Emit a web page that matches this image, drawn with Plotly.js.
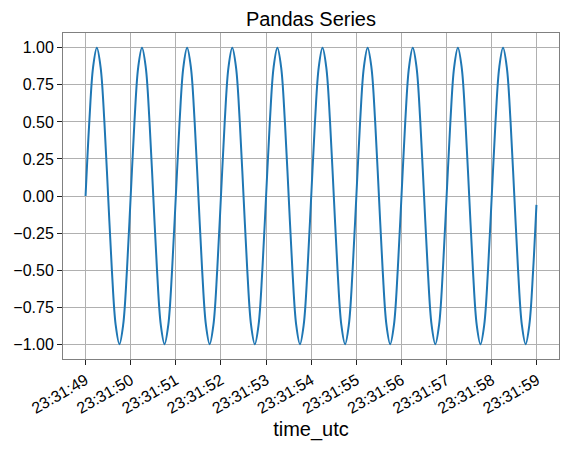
<!DOCTYPE html>
<html>
<head>
<meta charset="utf-8">
<script src="https://cdn.plot.ly/plotly-3.0.1.min.js"></script>
<style>html,body{margin:0;padding:0;background:#fff;}#chart{width:569px;height:451px;}</style>
</head>
<body>
<div id="chart"></div>
<script>
// Chart data
const seriesName = "Pandas Series";
const startTime = "2024-01-01 23:31:49";
const sampleOffsetsSec = [
  0.000,0.083,0.167,0.250,0.333,0.417,0.500,0.583,0.667,0.750,0.833,0.917,
  1.000,1.083,1.167,1.250,1.333,1.417,1.500,1.583,1.667,1.750,1.833,1.917,
  2.000,2.083,2.167,2.250,2.333,2.417,2.500,2.583,2.667,2.750,2.833,2.917,
  3.000,3.083,3.167,3.250,3.333,3.417,3.500,3.583,3.667,3.750,3.833,3.917,
  4.000,4.083,4.167,4.250,4.333,4.417,4.500,4.583,4.667,4.750,4.833,4.917,
  5.000,5.083,5.167,5.250,5.333,5.417,5.500,5.583,5.667,5.750,5.833,5.917,
  6.000,6.083,6.167,6.250,6.333,6.417,6.500,6.583,6.667,6.750,6.833,6.917,
  7.000,7.083,7.167,7.250,7.333,7.417,7.500,7.583,7.667,7.750,7.833,7.917,
  8.000,8.083,8.167,8.250,8.333,8.417,8.500,8.583,8.667,8.750,8.833,8.917,
  9.000,9.083,9.167,9.250,9.333,9.417,9.500,9.583,9.667,9.750,9.833,9.917,
  9.990
];
const seriesValues = [
  0,0.5,0.87,1,0.87,0.5,0,-0.5,-0.87,-1,-0.87,-0.5,
  0,0.5,0.87,1,0.87,0.5,0,-0.5,-0.87,-1,-0.87,-0.5,
  0,0.5,0.87,1,0.87,0.5,0,-0.5,-0.87,-1,-0.87,-0.5,
  0,0.5,0.87,1,0.87,0.5,0,-0.5,-0.87,-1,-0.87,-0.5,
  0,0.5,0.87,1,0.87,0.5,0,-0.5,-0.87,-1,-0.87,-0.5,
  0,0.5,0.87,1,0.87,0.5,0,-0.5,-0.87,-1,-0.87,-0.5,
  0,0.5,0.87,1,0.87,0.5,0,-0.5,-0.87,-1,-0.87,-0.5,
  0,0.5,0.87,1,0.87,0.5,0,-0.5,-0.87,-1,-0.87,-0.5,
  0,0.5,0.87,1,0.87,0.5,0,-0.5,-0.87,-1,-0.87,-0.5,
  0,0.5,0.87,1,0.87,0.5,0,-0.5,-0.87,-1,-0.87,-0.5,
  -0.06
];
const xAxisTitle = "time_utc";
const xRange = ["2024-01-01 23:31:48.5", "2024-01-01 23:31:59.49"];
const yRange = [-1.1, 1.1];

function pad(n, w){ let s = String(n); while (s.length < w) s = "0" + s; return s; }
const base = new Date(startTime.replace(" ", "T") + "Z").getTime();
const times = sampleOffsetsSec.map(o => {
  const d = new Date(base + Math.round(o * 1000));
  return d.getUTCFullYear() + "-" + pad(d.getUTCMonth()+1,2) + "-" + pad(d.getUTCDate(),2) + " " +
    pad(d.getUTCHours(),2) + ":" + pad(d.getUTCMinutes(),2) + ":" + pad(d.getUTCSeconds(),2) + "." + pad(d.getUTCMilliseconds(),3);
});

const font = "Liberation Sans, Arial, Helvetica, sans-serif";
const trace = {
  x: times, y: seriesValues, type: "scatter", mode: "lines",
  line: {color: "#1f77b4", width: 2, shape: "spline", smoothing: 1},
  hoverinfo: "skip"
};
const layout = {
  width: 569, height: 451,
  margin: {l: 63, r: 10, t: 33, b: 92},
  paper_bgcolor: "#fff", plot_bgcolor: "#fff",
  showlegend: false,
  font: {family: font, size: 16, color: "#000"},
  title: {text: seriesName, font: {family: font, size: 20, color: "#000"}, x: 0.5465, xanchor: "center", y: 0.958, yanchor: "middle", yref: "container"},
  xaxis: {
    type: "date", range: xRange,
    tickmode: "linear", tick0: "2024-01-01 23:31:49", dtick: 1000,
    tickformat: "%H:%M:%S", tickangle: -30,
    ticks: "outside", ticklen: 5, tickwidth: 1, tickcolor: "#222",
    showgrid: true, gridcolor: "#b0b0b0", gridwidth: 1,
    showline: true, linecolor: "#808080", linewidth: 1, mirror: true,
    zeroline: false,
    tickfont: {family: font, size: 16, color: "#000"},
    title: {text: xAxisTitle, font: {family: font, size: 20, color: "#000"}, standoff: 6}
  },
  yaxis: {
    range: yRange, tickmode: "linear", tick0: -1, dtick: 0.25, tickformat: ".2f",
    ticks: "outside", ticklen: 5, tickwidth: 1, tickcolor: "#222",
    showgrid: true, gridcolor: "#b0b0b0", gridwidth: 1,
    showline: true, linecolor: "#808080", linewidth: 1, mirror: true,
    zeroline: false,
    tickfont: {family: font, size: 16, color: "#000"}
  }
};
Plotly.newPlot("chart", [trace], layout, {displayModeBar: false, staticPlot: true});
</script>
</body>
</html>
